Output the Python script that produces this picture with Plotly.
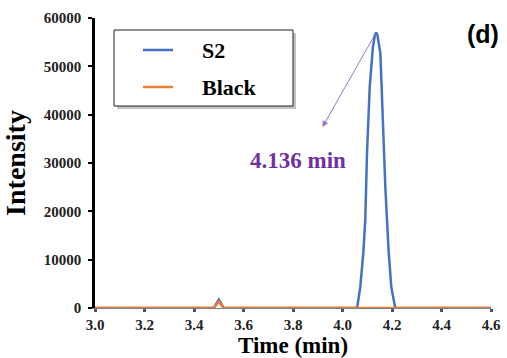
import plotly.graph_objects as go

# ---- data ----
s2_time = [3.00, 3.48, 3.50, 3.52, 4.059, 4.072, 4.084, 4.092, 4.099, 4.110, 4.123, 4.131,
           4.136, 4.141, 4.153, 4.162, 4.173, 4.186, 4.197, 4.213, 4.60]
s2_int = [0, 0, 1700, 0, 0, 4400, 11400, 18200, 32000, 45800, 54000, 56500,
          57000, 56500, 52700, 38900, 25100, 12000, 4400, 0, 0]
black_time = [3.00, 3.48, 3.50, 3.52, 4.60]
black_int = [0, 0, 1300, 0, 0]
series_names = ["S2", "Black"]
x_ticks = [3.0, 3.2, 3.4, 3.6, 3.8, 4.0, 4.2, 4.4, 4.6]
y_ticks = [0, 10000, 20000, 30000, 40000, 50000, 60000]
peak_label = "4.136 min"

W, H = 507, 358
ML, MR, MT, MB = 95, 16, 18, 50
PW, PH = W - ML - MR, H - MT - MB

def px(x):
    return (x - ML) / PW

def py(y):
    return (H - MB - y) / PH

serif = "Liberation Serif, Times New Roman, serif"
blue = "#4472C4"
orange = "#ED7D31"
purple = "#7030A0"
colors = [blue, orange]

fig = go.Figure()
fig.add_trace(go.Scatter(x=s2_time, y=s2_int, mode="lines", name=series_names[0],
                         line=dict(color=blue, width=2.5), showlegend=False))
fig.add_trace(go.Scatter(x=black_time, y=black_int, mode="lines", name=series_names[1],
                         line=dict(color=orange, width=2.5), showlegend=False))

ipk = s2_int.index(max(s2_int))
fig.add_annotation(x=3.919, y=37450, ax=s2_time[ipk], ay=s2_int[ipk],
                   xref="x", yref="y", axref="x", ayref="y", text="",
                   showarrow=True, arrowhead=2, arrowsize=1.2, arrowwidth=1,
                   arrowcolor="#A070D0")
fig.add_annotation(x=3.82, y=30600, xref="x", yref="y", text=peak_label, showarrow=False,
                   font=dict(family=serif, size=23, color=purple, weight="bold"))
fig.add_annotation(x=px(483), y=py(34), xref="paper", yref="paper", text="(d)",
                   xanchor="center", yanchor="middle", showarrow=False,
                   font=dict(family="Liberation Sans, Arial, sans-serif", size=25,
                             color="black", weight="bold"))

# legend box with shadow
fig.add_shape(type="rect", xref="paper", yref="paper",
              x0=px(117), x1=px(296), y0=py(109), y1=py(33),
              fillcolor="#9a9a9a", line=dict(width=0), layer="above", opacity=0.6)
fig.add_shape(type="rect", xref="paper", yref="paper",
              x0=px(114), x1=px(293), y0=py(106), y1=py(30),
              fillcolor="white", line=dict(color="#222", width=1), layer="above")
for i, (name, col) in enumerate(zip(series_names, colors)):
    yy = 50 + 37 * i
    fig.add_shape(type="line", xref="paper", yref="paper",
                  x0=px(143), x1=px(173), y0=py(yy), y1=py(yy),
                  line=dict(color=col, width=2.5), layer="above")
    fig.add_annotation(x=px(200), y=py(yy), xref="paper", yref="paper", text=name,
                       xanchor="left", yanchor="middle", showarrow=False,
                       font=dict(family=serif, size=22, color="black", weight="bold"))

fig.update_layout(
    width=W, height=H, margin=dict(l=ML, r=MR, t=MT, b=MB, autoexpand=False),
    paper_bgcolor="white", plot_bgcolor="white",
    showlegend=False,
    xaxis=dict(range=[3.0, 4.6], tickvals=x_ticks, ticktext=[f"{v:.1f}" for v in x_ticks],
               automargin=False,
               showgrid=False, zeroline=False, showline=True, linecolor="#7f7f7f", linewidth=1,
               ticks="outside", ticklen=3, tickwidth=3, tickcolor="#44546A",
               tickfont=dict(family=serif, size=15, color="#222", weight="bold"),
               title=dict(text="Time (min)", standoff=2,
                          font=dict(family=serif, size=23, color="black", weight="bold"))),
    yaxis=dict(range=[0, 60000], tickvals=y_ticks, ticktext=[str(v) for v in y_ticks],
               automargin=False,
               showgrid=False, zeroline=False, showline=True, linecolor="black", linewidth=2.5,
               ticks="outside", ticklen=4, tickwidth=2, tickcolor="black",
               ticklabelstandoff=4,
               tickfont=dict(family=serif, size=15, color="#222", weight="bold"),
               title=dict(text="Intensity", standoff=10,
                          font=dict(family=serif, size=28, color="black", weight="bold"))),
)

fig.write_html("out.html", config={"displayModeBar": False},
               post_script="document.body.style.margin='0';")
